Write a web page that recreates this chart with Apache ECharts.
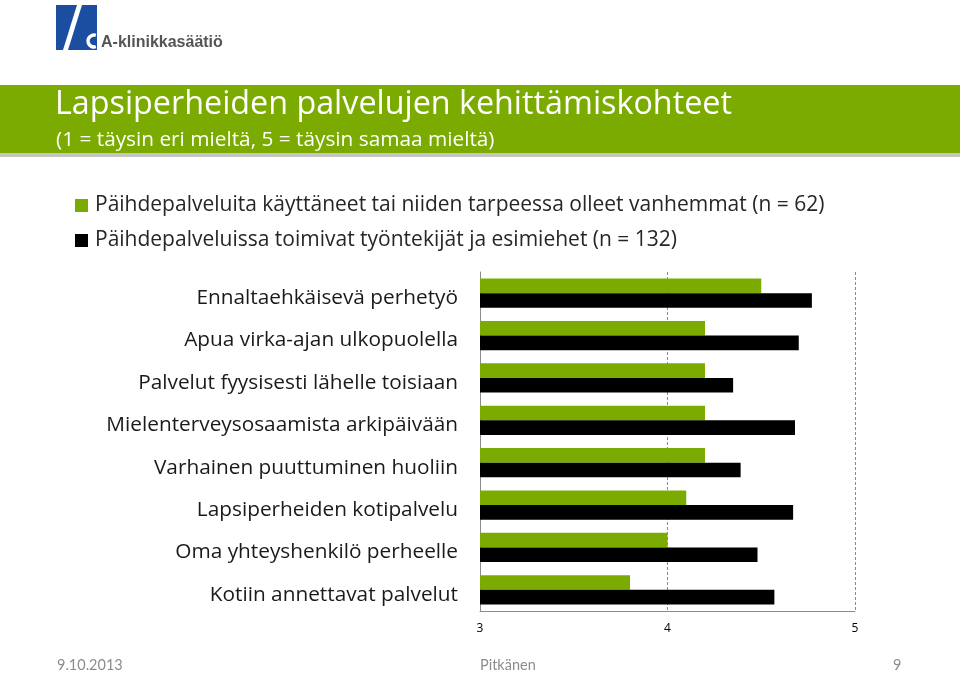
<!DOCTYPE html>
<html>
<head>
<meta charset="utf-8">
<script src="https://cdn.jsdelivr.net/npm/echarts@6/dist/echarts.min.js"></script>
<style>
html,body{margin:0;padding:0;background:#fff;}
#chart{width:960px;height:674px;}
</style>
</head>
<body>
<div id="chart"></div>
<script>
const categories = [
  'Ennaltaehkäisevä perhetyö',
  'Apua virka-ajan ulkopuolella',
  'Palvelut fyysisesti lähelle toisiaan',
  'Mielenterveysosaamista arkipäivään',
  'Varhainen puuttuminen huoliin',
  'Lapsiperheiden kotipalvelu',
  'Oma yhteyshenkilö perheelle',
  'Kotiin annettavat palvelut'
];
const seriesNames = [
  'Päihdepalveluita käyttäneet tai niiden tarpeessa olleet vanhemmat (n = 62)',
  'Päihdepalveluissa toimivat työntekijät ja esimiehet (n = 132)'
];
const parents = [4.5, 4.2, 4.2, 4.2, 4.2, 4.1, 4.0, 3.8];
const workers = [4.77, 4.7, 4.35, 4.68, 4.39, 4.67, 4.48, 4.57];
const xTicks = [3, 4, 5];

const titleText = 'Lapsiperheiden palvelujen kehittämiskohteet';
const subtitleText = '(1 = täysin eri mieltä, 5 = täysin samaa mieltä)';
const footerDate = '9.10.2013';
const footerAuthor = 'Pitkänen';
const footerPage = '9';
const logoText = 'A-klinikkasäätiö';

const GREEN = '#7bab00';
const FONT = '"Open Sans", Lato, sans-serif';
const FOOT = 'Lato, "Open Sans", sans-serif';

const chart = echarts.init(document.getElementById('chart'));
chart.setOption({
  animation: false,
  backgroundColor: '#ffffff',
  textStyle: { fontFamily: FONT },
  grid: { left: 480, right: 105, top: 272, bottom: 63, containLabel: false },
  legend: {
    orient: 'vertical',
    left: 75, top: 195,
    padding: 0,
    itemWidth: 13, itemHeight: 13, itemGap: 14,
    icon: 'rect',
    data: seriesNames,
    textStyle: { fontSize: 21, lineHeight: 20, color: '#262626', fontFamily: FONT, padding: [0, 0, 0, 2] },
    selectedMode: false
  },
  xAxis: {
    type: 'value',
    min: xTicks[0], max: xTicks[xTicks.length - 1], interval: 1,
    axisLine: { show: true, lineStyle: { color: '#8c8c8c', width: 1 } },
    axisTick: { show: false },
    axisLabel: { fontSize: 12, color: '#000', margin: 12, fontFamily: FONT },
    splitLine: { show: true, lineStyle: { color: '#8c8c8c', type: [3, 2], width: 1 } }
  },
  yAxis: {
    type: 'category',
    inverse: true,
    data: categories,
    axisLine: { show: true, lineStyle: { color: '#8c8c8c', width: 1 } },
    axisTick: { show: false },
    axisLabel: { fontSize: 20.8, color: '#1a1a1a', margin: 22, fontFamily: FONT,
      verticalAlign: 'top', lineHeight: 10 }
  },
  series: [
    { name: seriesNames[0], type: 'bar', data: parents, itemStyle: { color: GREEN },
      barGap: '0%', barCategoryGap: '31%' },
    { name: seriesNames[1], type: 'bar', data: workers, itemStyle: { color: '#000000' },
      barGap: '0%', barCategoryGap: '31%' }
  ],
  graphic: [
    // title band shadow + band
    { type: 'rect', shape: { x: 0, y: 88, width: 960, height: 69 }, style: { fill: '#c4c4c4' }, z: 0 },
    { type: 'rect', shape: { x: 0, y: 85, width: 960, height: 68 }, style: { fill: GREEN }, z: 1 },
    { type: 'text', left: 55, top: 89, z: 2,
      style: { text: titleText, fill: '#ffffff', font: '32.3px ' + FONT } },
    { type: 'text', left: 56, top: 130, z: 2,
      style: { text: subtitleText, fill: '#ffffff', font: '20.8px ' + FONT } },
    // logo
    { type: 'polygon', shape: { points: [[56,5],[77,5],[63,50],[56,50]] }, style: { fill: '#1b4ea0' }, z: 2 },
    { type: 'polygon', shape: { points: [[82,5],[97,5],[97,50],[68,50]] }, style: { fill: '#1b4ea0' }, z: 2 },
    { type: 'arc', shape: { cx: 94, cy: 41, r: 6, startAngle: Math.PI * 0.4, endAngle: Math.PI * 1.6 },
      style: { stroke: '#ffffff', lineWidth: 3.5, fill: 'none' }, z: 3 },
    { type: 'text', left: 101, top: 35, z: 2,
      style: { text: logoText, fill: '#555555', font: 'bold 16px "Liberation Sans", Arial, sans-serif' } },
    // footer
    { type: 'text', left: 57, top: 658, z: 2,
      style: { text: footerDate, fill: '#8c8c8c', font: '14.5px ' + FOOT } },
    { type: 'text', left: 480, top: 658, z: 2,
      style: { text: footerAuthor, fill: '#8c8c8c', font: '14.5px ' + FOOT, textAlign: 'center' } },
    { type: 'text', left: 893, top: 658, z: 2,
      style: { text: footerPage, fill: '#8c8c8c', font: '14.5px ' + FOOT } }
  ]
});
</script>
</body>
</html>
